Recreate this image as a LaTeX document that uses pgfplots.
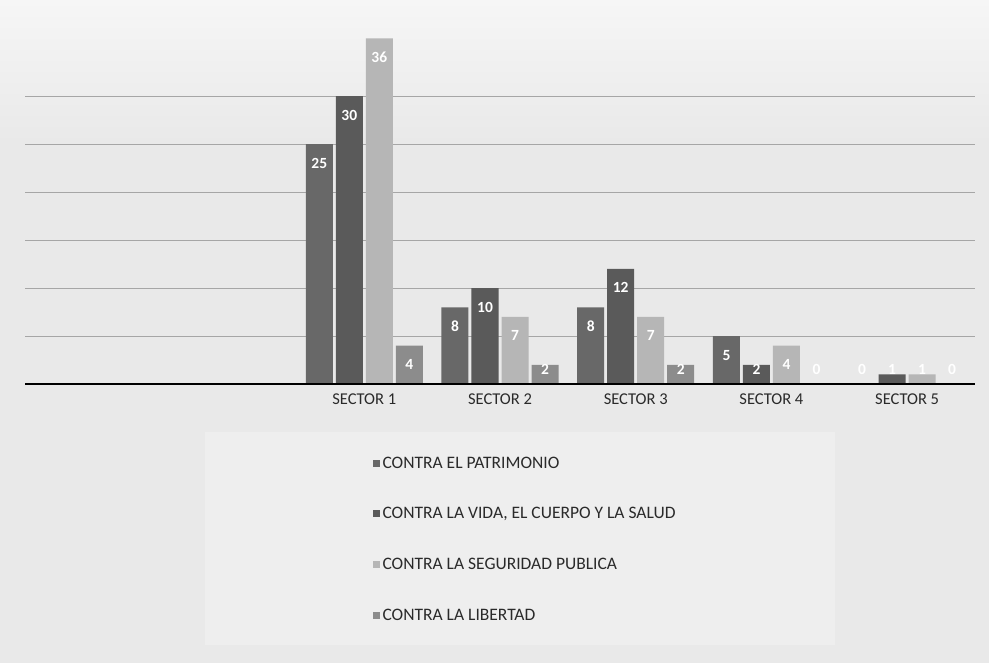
\documentclass[border=0pt]{standalone}
\usepackage{pgfplots}
\pgfplotsset{compat=1.18}
\usepackage{fontspec}
\setmainfont{Carlito}
\definecolor{bgc}{HTML}{E9E9E9}
\definecolor{bgt}{HTML}{F6F6F6}
\definecolor{lgc}{HTML}{EEEEEE}
\definecolor{cA}{HTML}{686868}
\definecolor{cB}{HTML}{5A5A5A}
\definecolor{cC}{HTML}{B6B6B6}
\definecolor{cD}{HTML}{8C8C8C}
\definecolor{txt}{HTML}{2A2A2A}
\begin{document}
\begin{tikzpicture}
\fill[bgc] (0,0) rectangle (989pt,663pt);
\shade[top color=bgt, bottom color=bgc] (0,520pt) rectangle (989pt,663pt);
\fill[lgc] (205pt,18pt) rectangle (835pt,231pt);
\begin{axis}[
  at={(25pt,279pt)}, anchor=south west,
  scale only axis, width=950pt, height=384pt,
  ybar=3pt, bar width=27pt,
  xmin=-0.5, xmax=6.5, ymin=0, ymax=40,
  xtick={0,...,6},
  xticklabels={,,SECTOR 1,SECTOR 2,SECTOR 3,SECTOR 4,SECTOR 5},
  xticklabel style={font=\fontsize{16.5}{16.5}\selectfont, text=txt, yshift=-6pt},
  ytick={5,10,...,30}, yticklabels={},
  ymajorgrids, grid style={color=gray!70, line width=0.8pt},
  major tick length=0pt,
  axis line style={draw=none},
  nodes near coords,
  /pgf/number format/assume math mode=true,
  visualization depends on={rawy \as \rawy},
  every node near coord/.append style={anchor=center, text=white,
     font=\fontsize{15.5}{15.5}\selectfont\bfseries,
     yshift={(max(\rawy-1.98,1.56)-\rawy)*9.6}},
  legend cell align=left,
  legend style={at={(axis description cs:0.363,-0.178)}, anchor=north west,
     draw=none, fill=none, font=\fontsize{17.5}{17.5}\selectfont, text=txt,
     row sep=34pt, nodes={inner xsep=2.5pt}},
  legend image code/.code={\fill[#1,draw=none] (0pt,-3.5pt) rectangle (7pt,3.5pt);},
]
\addplot[fill=cA, draw=none] coordinates {(2,25) (3,8) (4,8) (5,5) (6,0)};
\addplot[fill=cB, draw=none] coordinates {(2,30) (3,10) (4,12) (5,2) (6,1)};
\addplot[fill=cC, draw=none] coordinates {(2,36) (3,7) (4,7) (5,4) (6,1)};
\addplot[fill=cD, draw=none] coordinates {(2,4) (3,2) (4,2) (5,0) (6,0)};
\legend{CONTRA EL PATRIMONIO, {CONTRA LA VIDA, EL CUERPO Y LA SALUD}, CONTRA LA SEGURIDAD PUBLICA, CONTRA LA LIBERTAD}
\draw[black, line width=1.6pt] (rel axis cs:0,0) -- (rel axis cs:1,0);
\end{axis}
\end{tikzpicture}
\end{document}
